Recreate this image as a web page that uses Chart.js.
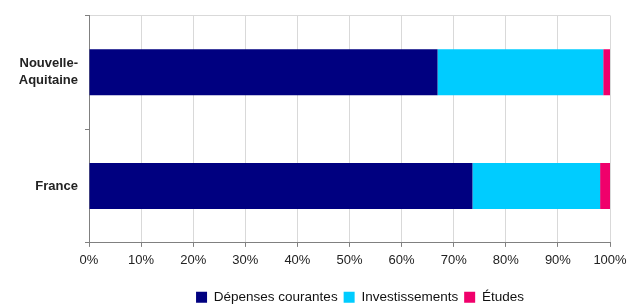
<!DOCTYPE html>
<html>
<head>
<meta charset="utf-8">
<script src="https://cdn.jsdelivr.net/npm/chart.js@4/dist/chart.umd.min.js"></script>
<style>
    html, body { margin: 0; padding: 0; background: #fff; }
    #wrap { width: 629px; height: 307px; }
</style>
</head>
<body>
<div id="wrap"><canvas id="chart"></canvas></div>
<script>
const regions = [['Nouvelle-', 'Aquitaine'], 'France'];
const depensesCourantes = [66.9, 73.6];
const investissements = [31.8, 24.5];
const etudes = [1.3, 1.9];
const xTicks = [0, 10, 20, 30, 40, 50, 60, 70, 80, 90, 100];

// the legend sits a bit right of centre in the original
const shiftLegend = {
    id: 'shiftLegend',
    afterLayout(chart) {
        chart.legend.left += 55;
        chart.legend.right += 55;
    }
};

const ctx = document.getElementById('chart').getContext('2d');
new Chart(ctx, {
    type: 'bar',
    data: {
        labels: regions,
        datasets: [
            { label: 'Dépenses courantes', data: depensesCourantes, backgroundColor: '#000080' },
            { label: 'Investissements', data: investissements, backgroundColor: '#00ccff' },
            { label: 'Études', data: etudes, backgroundColor: '#f0006b' }
        ]
    },
    options: {
        indexAxis: 'y',
        responsive: true,
        maintainAspectRatio: false,
        animation: false,
        layout: { padding: { top: 15, right: 19, left: 0, bottom: -7 } },
        datasets: {
            bar: { categoryPercentage: 1, barPercentage: 0.405, borderWidth: 0 }
        },
        scales: {
            x: {
                stacked: true,
                min: 0,
                max: 100,
                afterBuildTicks: function(scale) {
                    scale.ticks = xTicks.map(v => ({ value: v }));
                },
                afterFit: function(scale) {
                    scale.height += 10;
                    scale.paddingRight = 0;
                    scale.paddingLeft = 0;
                },
                ticks: {
                    callback: v => v + '%',
                    color: '#222',
                    font: { family: 'Liberation Sans', size: 13 },
                    padding: 6,
                    maxRotation: 0
                },
                grid: { color: '#d9d9d9', tickColor: '#808080', tickLength: 4 },
                border: { color: '#808080', width: 1 }
            },
            y: {
                stacked: true,
                afterFit: function(scale) { scale.width = 89; },
                ticks: {
                    color: '#222',
                    font: { family: 'Liberation Sans', size: 13, weight: 'bold', lineHeight: 1.3 },
                    padding: 7
                },
                grid: {
                    offset: true,
                    color: c => c.index === 0 ? '#d9d9d9' : 'rgba(0,0,0,0)',
                    tickColor: '#808080',
                    tickLength: 4
                },
                border: { color: '#808080', width: 1 }
            }
        },
        plugins: {
            tooltip: { enabled: false },
            legend: {
                position: 'bottom',
                labels: {
                    boxWidth: 11,
                    boxHeight: 11,
                    padding: 6,
                    color: '#111',
                    font: { family: 'Liberation Sans', size: 13.5 }
                }
            }
        }
    },
    plugins: [shiftLegend]
});
</script>
</body>
</html>
